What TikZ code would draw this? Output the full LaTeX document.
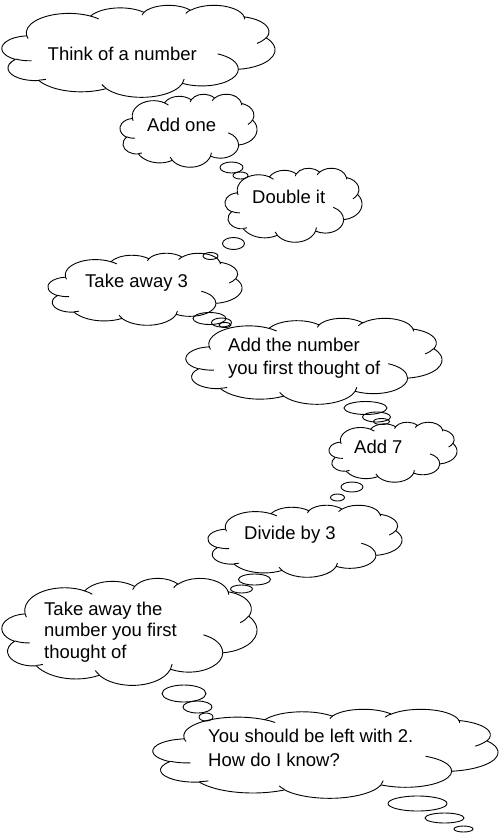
\documentclass[tikz,border=0pt]{standalone}
\usepackage{fontspec}
\setmainfont{Liberation Sans}
\usetikzlibrary{shapes.geometric}
\tikzset{
  msarc/.style n args={4}{start angle={vis(#1,#2,#3)}, end angle={vis(#1,#2,#4)}, x radius=#1, y radius=#2},
  cloudline/.style={draw, line width=0.9pt, line join=round},
  bubble/.style={draw, line width=0.9pt, ellipse, inner sep=0pt},
  txt/.style={font=\fontsize{18.5}{22}\selectfont, inner sep=0pt, anchor=base west}
}
\newcommand\drawmscloud[4]{%
  \pgfmathsetmacro\cldsx{#3/432}\pgfmathsetmacro\cldsy{#4/432}%
  \begin{scope}[shift={(#1,#2)}, x=\cldsx pt, y=-\cldsy pt]
    \draw[cloudline] (39.00,143.70)
      arc[msarc={67.53}{91.90}{-190.48748}{-66.70695}]
      arc[msarc={53.33}{72.67}{-144.10238}{-54.15715}]
      arc[msarc={43.65}{59.45}{-145.80792}{-46.0849}]
      arc[msarc={48.57}{65.95}{-130.98607}{-13.74434}]
      arc[msarc={53.33}{72.73}{-78.70888}{30.31804}]
      arc[msarc={67.75}{92.20}{-46.26725}{84.00175}]
      arc[msarc={57.85}{78.67}{0.62502}{114.65835}]
      arc[msarc={67.52}{92.15}{22.4516}{137.62415}]
      arc[msarc={77.20}{105.43}{66.24263}{141.95365}]
      arc[msarc={43.60}{59.18}{-274.94208}{-128.20651}]
      arc[msarc={43.45}{59.45}{-246.8285}{-94.30965}]
      -- cycle;
    \draw[cloudline]
      (46.93,261.77) arc[msarc={43.45}{59.45}{86.742}{113.1715}]
      (69.28,348.99) arc[msarc={43.60}{59.18}{73.6105}{85.058}]
      (164.78,390.90) arc[msarc={67.52}{92.15}{137.6242}{151.7053}]
      (288.27,347.51) arc[msarc={67.52}{92.15}{6.4533}{22.4517}]
      (341.29,229.54) arc[msarc={57.85}{78.67}{-70.2924}{0.625}]
      (417.98,153.54) arc[msarc={53.33}{72.73}{30.318}{58.0695}]
      (383.24,54.26) arc[msarc={48.57}{65.95}{-13.7443}{1.1146}]
      (290.78,39.52) arc[msarc={48.57}{65.95}{-149.1815}{-130.9861}]
      (221.41,47.20) arc[msarc={43.65}{59.45}{-163.4943}{-145.8079}]
      (140.00,51.92) arc[msarc={67.53}{91.90}{-66.707}{-54.3876}]
      (41.27,157.89) arc[msarc={67.53}{91.90}{157.6544}{169.5126}];
  \end{scope}}
\begin{document}
\begin{tikzpicture}[x=1pt,y=-1pt,
  declare function={vis(\a,\b,\t)=atan2(\a*sin(\t),\b*cos(\t))+360*round((\t-atan2(\a*sin(\t),\b*cos(\t)))/360);}]
\useasboundingbox (0,0) rectangle (502,836);
% clouds
\drawmscloud{2}{5}{273}{92}
\drawmscloud{120}{94}{137}{73}
\drawmscloud{225}{168}{137}{74}
\drawmscloud{48}{253}{194}{72}
\drawmscloud{186}{318}{256}{86}
\drawmscloud{329}{422}{128}{60}
\drawmscloud{208}{505}{194}{72}
\drawmscloud{2}{578}{255}{107}
\drawmscloud{153}{709}{345}{89}
% bubbles
\node[bubble, minimum width=23pt, minimum height=11pt] (b2a) at (231.5,167.5) {};
\node[bubble, minimum width=15pt, minimum height=7pt] (b2b) at (240.5,175.5) {};
\node[bubble, minimum width=22pt, minimum height=12pt] (b3a) at (233.5,243.5) {};
\node[bubble, minimum width=15pt, minimum height=7pt] (b3b) at (210.5,256) {};
\node[bubble, minimum width=33pt, minimum height=12pt] (b4a) at (209.5,318.5) {};
\node[bubble, minimum width=20pt, minimum height=9pt] (b4b) at (221.5,322.5) {};
\node[bubble, minimum width=12pt, minimum height=5pt] (b4c) at (225,325) {};
\node[bubble, minimum width=43pt, minimum height=13pt] (b5a) at (365.5,408) {};
\node[bubble, minimum width=28pt, minimum height=10pt] (b5b) at (376.5,417) {};
\node[bubble, minimum width=16pt, minimum height=6pt] (b5c) at (381.5,421.5) {};
\node[bubble, minimum width=22pt, minimum height=10pt] (b6a) at (352,487) {};
\node[bubble, minimum width=14pt, minimum height=7pt] (b6b) at (337.5,497.5) {};
\node[bubble, minimum width=32pt, minimum height=11pt] (b7a) at (254.5,579.5) {};
\node[bubble, minimum width=22pt, minimum height=8pt] (b7b) at (241.5,589) {};
\node[bubble, minimum width=44pt, minimum height=17pt] (b8a) at (184,693.5) {};
\node[bubble, minimum width=29pt, minimum height=12pt] (b8b) at (197.5,707) {};
\node[bubble, minimum width=14pt, minimum height=8pt] (b8c) at (206,717) {};
\node[bubble, minimum width=59pt, minimum height=15pt] (b9a) at (417.5,803.5) {};
\node[bubble, minimum width=39pt, minimum height=10pt] (b9b) at (444.5,818) {};
\node[bubble, minimum width=19pt, minimum height=6pt] (b9c) at (463.5,829) {};
% texts
\node[txt] (t1) at (47.5,60) {Think of a number};
\node[txt] (t2) at (147,131) {Add one};
\node[txt] (t3) at (252,203) {Double it};
\node[txt] (t4) at (85,287) {Take away 3};
\node[txt] (t5a) at (228,351.5) {Add the number};
\node[txt] (t5b) at (228,374) {you first thought of};
\node[txt] (t6) at (354,453) {Add 7};
\node[txt] (t7) at (244,539) {Divide by 3};
\node[txt] (t8a) at (44,615) {Take away the};
\node[txt] (t8b) at (44,636.5) {number you first};
\node[txt] (t8c) at (44,658) {thought of};
\node[txt] (t9a) at (208,742.5) {You should be left with 2.};
\node[txt] (t9b) at (208,766.5) {How do I know?};
\end{tikzpicture}
\end{document}
